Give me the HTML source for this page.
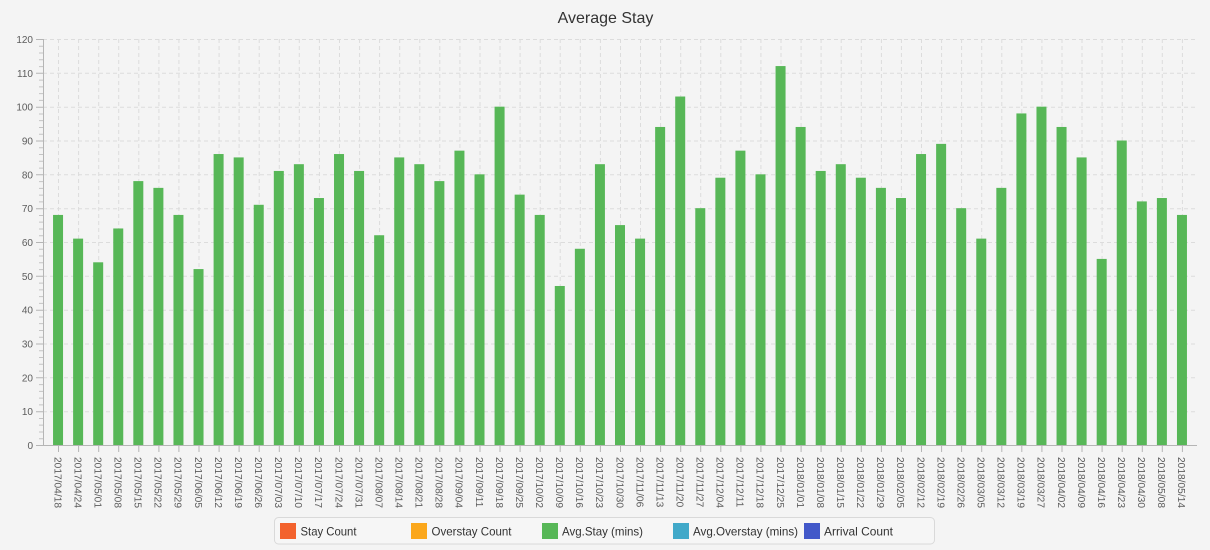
<!DOCTYPE html>
<html><head><meta charset="utf-8"><style>
html,body{margin:0;padding:0;background:#f4f4f4;}
svg{display:block;font-family:"Liberation Sans",sans-serif;}
</style></head><body>
<svg width="1210" height="550" viewBox="0 0 1210 550" xmlns="http://www.w3.org/2000/svg">
<rect width="1210" height="550" fill="#f4f4f4"/>
<text x="605.5" y="23" text-anchor="middle" font-size="16" fill="#333">Average Stay</text>

<!-- horizontal grid -->
<g stroke="#dcdcdc" stroke-width="1" stroke-dasharray="4,3" fill="none">
<path d="M43 39.5H1197M43 73.3H1197M43 107.2H1197M43 141H1197M43 174.8H1197M43 208.7H1197M43 242.5H1197M43 276.3H1197M43 310.2H1197M43 344H1197M43 377.8H1197M43 411.7H1197"/>
</g>
<!-- vertical grid -->
<g stroke="#dcdcdc" stroke-width="1" stroke-dasharray="4,3" fill="none">
<path d="M58.5 39V445M78.6 39V445M98.7 39V445M118.7 39V445M138.8 39V445M158.9 39V445M178.9 39V445M199 39V445M219.1 39V445M239.1 39V445M259.2 39V445M279.3 39V445M299.3 39V445M319.4 39V445M339.5 39V445M359.6 39V445M379.6 39V445M399.7 39V445M419.8 39V445M439.8 39V445M459.9 39V445M480 39V445M500 39V445M520.1 39V445M540.2 39V445M560.2 39V445M580.3 39V445M600.4 39V445M620.5 39V445M640.5 39V445M660.6 39V445M680.7 39V445M700.7 39V445M720.8 39V445M740.9 39V445M760.9 39V445M781 39V445M801.1 39V445M821.1 39V445M841.2 39V445M861.3 39V445M881.4 39V445M901.4 39V445M921.5 39V445M941.6 39V445M961.6 39V445M981.7 39V445M1001.8 39V445M1021.8 39V445M1041.9 39V445M1062 39V445M1082 39V445M1102.1 39V445M1122.2 39V445M1142.3 39V445M1162.3 39V445M1182.4 39V445"/>
</g>

<!-- bars -->
<g transform="translate(53.04,445) scale(20.07,-3.38333)" fill="#57b757">
<rect x="0" y="0" width="0.4983" height="68"/>
<rect x="1" y="0" width="0.4983" height="61"/>
<rect x="2" y="0" width="0.4983" height="54"/>
<rect x="3" y="0" width="0.4983" height="64"/>
<rect x="4" y="0" width="0.4983" height="78"/>
<rect x="5" y="0" width="0.4983" height="76"/>
<rect x="6" y="0" width="0.4983" height="68"/>
<rect x="7" y="0" width="0.4983" height="52"/>
<rect x="8" y="0" width="0.4983" height="86"/>
<rect x="9" y="0" width="0.4983" height="85"/>
<rect x="10" y="0" width="0.4983" height="71"/>
<rect x="11" y="0" width="0.4983" height="81"/>
<rect x="12" y="0" width="0.4983" height="83"/>
<rect x="13" y="0" width="0.4983" height="73"/>
<rect x="14" y="0" width="0.4983" height="86"/>
<rect x="15" y="0" width="0.4983" height="81"/>
<rect x="16" y="0" width="0.4983" height="62"/>
<rect x="17" y="0" width="0.4983" height="85"/>
<rect x="18" y="0" width="0.4983" height="83"/>
<rect x="19" y="0" width="0.4983" height="78"/>
<rect x="20" y="0" width="0.4983" height="87"/>
<rect x="21" y="0" width="0.4983" height="80"/>
<rect x="22" y="0" width="0.4983" height="100"/>
<rect x="23" y="0" width="0.4983" height="74"/>
<rect x="24" y="0" width="0.4983" height="68"/>
<rect x="25" y="0" width="0.4983" height="47"/>
<rect x="26" y="0" width="0.4983" height="58"/>
<rect x="27" y="0" width="0.4983" height="83"/>
<rect x="28" y="0" width="0.4983" height="65"/>
<rect x="29" y="0" width="0.4983" height="61"/>
<rect x="30" y="0" width="0.4983" height="94"/>
<rect x="31" y="0" width="0.4983" height="103"/>
<rect x="32" y="0" width="0.4983" height="70"/>
<rect x="33" y="0" width="0.4983" height="79"/>
<rect x="34" y="0" width="0.4983" height="87"/>
<rect x="35" y="0" width="0.4983" height="80"/>
<rect x="36" y="0" width="0.4983" height="112"/>
<rect x="37" y="0" width="0.4983" height="94"/>
<rect x="38" y="0" width="0.4983" height="81"/>
<rect x="39" y="0" width="0.4983" height="83"/>
<rect x="40" y="0" width="0.4983" height="79"/>
<rect x="41" y="0" width="0.4983" height="76"/>
<rect x="42" y="0" width="0.4983" height="73"/>
<rect x="43" y="0" width="0.4983" height="86"/>
<rect x="44" y="0" width="0.4983" height="89"/>
<rect x="45" y="0" width="0.4983" height="70"/>
<rect x="46" y="0" width="0.4983" height="61"/>
<rect x="47" y="0" width="0.4983" height="76"/>
<rect x="48" y="0" width="0.4983" height="98"/>
<rect x="49" y="0" width="0.4983" height="100"/>
<rect x="50" y="0" width="0.4983" height="94"/>
<rect x="51" y="0" width="0.4983" height="85"/>
<rect x="52" y="0" width="0.4983" height="55"/>
<rect x="53" y="0" width="0.4983" height="90"/>
<rect x="54" y="0" width="0.4983" height="72"/>
<rect x="55" y="0" width="0.4983" height="73"/>
<rect x="56" y="0" width="0.4983" height="68"/>
</g>

<!-- axes -->
<g stroke="#b5b5b5" stroke-width="1" fill="none">
<path d="M43.5 39V445.5M43 445.5H1197"/>
<path d="M36 39.5H43.5M36 73.3H43.5M36 107.2H43.5M36 141H43.5M36 174.8H43.5M36 208.7H43.5M36 242.5H43.5M36 276.3H43.5M36 310.2H43.5M36 344H43.5M36 377.8H43.5M36 411.7H43.5M36 445.5H43.5"/>
</g>
<!-- minor y ticks -->
<g stroke="#c4c4c4" stroke-width="1" fill="none">
<path id="mt" d="M39 46.3H43M39 53H43M39 59.8H43M39 66.6H43"/>
<use href="#mt" y="33.83"/><use href="#mt" y="67.67"/><use href="#mt" y="101.5"/><use href="#mt" y="135.33"/><use href="#mt" y="169.17"/><use href="#mt" y="203"/><use href="#mt" y="236.83"/><use href="#mt" y="270.67"/><use href="#mt" y="304.5"/><use href="#mt" y="338.33"/><use href="#mt" y="372.17"/>
</g>
<!-- x ticks -->
<g stroke="#b5b5b5" stroke-width="1" fill="none">
<path d="M58.5 445V452M78.6 445V452M98.7 445V452M118.7 445V452M138.8 445V452M158.9 445V452M178.9 445V452M199 445V452M219.1 445V452M239.1 445V452M259.2 445V452M279.3 445V452M299.3 445V452M319.4 445V452M339.5 445V452M359.6 445V452M379.6 445V452M399.7 445V452M419.8 445V452M439.8 445V452M459.9 445V452M480 445V452M500 445V452M520.1 445V452M540.2 445V452M560.2 445V452M580.3 445V452M600.4 445V452M620.5 445V452M640.5 445V452M660.6 445V452M680.7 445V452M700.7 445V452M720.8 445V452M740.9 445V452M760.9 445V452M781 445V452M801.1 445V452M821.1 445V452M841.2 445V452M861.3 445V452M881.4 445V452M901.4 445V452M921.5 445V452M941.6 445V452M961.6 445V452M981.7 445V452M1001.8 445V452M1021.8 445V452M1041.9 445V452M1062 445V452M1082 445V452M1102.1 445V452M1122.2 445V452M1142.3 445V452M1162.3 445V452M1182.4 445V452"/>
</g>

<!-- y labels -->
<g font-size="10" fill="#5c5c5c" text-anchor="end">
<text x="33" y="43">120</text>
<text x="33" y="76.8">110</text>
<text x="33" y="110.7">100</text>
<text x="33" y="144.5">90</text>
<text x="33" y="178.3">80</text>
<text x="33" y="212.2">70</text>
<text x="33" y="246">60</text>
<text x="33" y="279.8">50</text>
<text x="33" y="313.7">40</text>
<text x="33" y="347.5">30</text>
<text x="33" y="381.3">20</text>
<text x="33" y="415.2">10</text>
<text x="33" y="449">0</text>
</g>

<!-- x labels -->
<g font-size="10.2" fill="#5c5c5c">
<text transform="translate(54.3,457) rotate(90)">2017/04/18</text>
<text transform="translate(74.4,457) rotate(90)">2017/04/24</text>
<text transform="translate(94.5,457) rotate(90)">2017/05/01</text>
<text transform="translate(114.5,457) rotate(90)">2017/05/08</text>
<text transform="translate(134.6,457) rotate(90)">2017/05/15</text>
<text transform="translate(154.7,457) rotate(90)">2017/05/22</text>
<text transform="translate(174.7,457) rotate(90)">2017/05/29</text>
<text transform="translate(194.8,457) rotate(90)">2017/06/05</text>
<text transform="translate(214.9,457) rotate(90)">2017/06/12</text>
<text transform="translate(234.9,457) rotate(90)">2017/06/19</text>
<text transform="translate(255,457) rotate(90)">2017/06/26</text>
<text transform="translate(275.1,457) rotate(90)">2017/07/03</text>
<text transform="translate(295.1,457) rotate(90)">2017/07/10</text>
<text transform="translate(315.2,457) rotate(90)">2017/07/17</text>
<text transform="translate(335.3,457) rotate(90)">2017/07/24</text>
<text transform="translate(355.4,457) rotate(90)">2017/07/31</text>
<text transform="translate(375.4,457) rotate(90)">2017/08/07</text>
<text transform="translate(395.5,457) rotate(90)">2017/08/14</text>
<text transform="translate(415.6,457) rotate(90)">2017/08/21</text>
<text transform="translate(435.6,457) rotate(90)">2017/08/28</text>
<text transform="translate(455.7,457) rotate(90)">2017/09/04</text>
<text transform="translate(475.8,457) rotate(90)">2017/09/11</text>
<text transform="translate(495.8,457) rotate(90)">2017/09/18</text>
<text transform="translate(515.9,457) rotate(90)">2017/09/25</text>
<text transform="translate(536,457) rotate(90)">2017/10/02</text>
<text transform="translate(556,457) rotate(90)">2017/10/09</text>
<text transform="translate(576.1,457) rotate(90)">2017/10/16</text>
<text transform="translate(596.2,457) rotate(90)">2017/10/23</text>
<text transform="translate(616.3,457) rotate(90)">2017/10/30</text>
<text transform="translate(636.3,457) rotate(90)">2017/11/06</text>
<text transform="translate(656.4,457) rotate(90)">2017/11/13</text>
<text transform="translate(676.5,457) rotate(90)">2017/11/20</text>
<text transform="translate(696.5,457) rotate(90)">2017/11/27</text>
<text transform="translate(716.6,457) rotate(90)">2017/12/04</text>
<text transform="translate(736.7,457) rotate(90)">2017/12/11</text>
<text transform="translate(756.7,457) rotate(90)">2017/12/18</text>
<text transform="translate(776.8,457) rotate(90)">2017/12/25</text>
<text transform="translate(796.9,457) rotate(90)">2018/01/01</text>
<text transform="translate(816.9,457) rotate(90)">2018/01/08</text>
<text transform="translate(837,457) rotate(90)">2018/01/15</text>
<text transform="translate(857.1,457) rotate(90)">2018/01/22</text>
<text transform="translate(877.2,457) rotate(90)">2018/01/29</text>
<text transform="translate(897.2,457) rotate(90)">2018/02/05</text>
<text transform="translate(917.3,457) rotate(90)">2018/02/12</text>
<text transform="translate(937.4,457) rotate(90)">2018/02/19</text>
<text transform="translate(957.4,457) rotate(90)">2018/02/26</text>
<text transform="translate(977.5,457) rotate(90)">2018/03/05</text>
<text transform="translate(997.6,457) rotate(90)">2018/03/12</text>
<text transform="translate(1017.6,457) rotate(90)">2018/03/19</text>
<text transform="translate(1037.7,457) rotate(90)">2018/03/27</text>
<text transform="translate(1057.8,457) rotate(90)">2018/04/02</text>
<text transform="translate(1077.8,457) rotate(90)">2018/04/09</text>
<text transform="translate(1097.9,457) rotate(90)">2018/04/16</text>
<text transform="translate(1118,457) rotate(90)">2018/04/23</text>
<text transform="translate(1138.1,457) rotate(90)">2018/04/30</text>
<text transform="translate(1158.1,457) rotate(90)">2018/05/08</text>
<text transform="translate(1178.2,457) rotate(90)">2018/05/14</text>
</g>

<!-- legend -->
<rect x="274.5" y="517.5" width="660" height="26.5" rx="4" ry="4" fill="#f6f6f6" stroke="#d9d9d9"/>
<rect x="280" y="523" width="16" height="16" fill="#f3622d"/>
<rect x="411" y="523" width="16" height="16" fill="#fba71b"/>
<rect x="542" y="523" width="16" height="16" fill="#57b757"/>
<rect x="673" y="523" width="16" height="16" fill="#41a9c9"/>
<rect x="804" y="523" width="16" height="16" fill="#4258c9"/>
<g font-size="12" fill="#333">
<text x="300.5" y="535.5" textLength="56" lengthAdjust="spacingAndGlyphs">Stay Count</text>
<text x="431.5" y="535.5" textLength="80" lengthAdjust="spacingAndGlyphs">Overstay Count</text>
<text x="562" y="535.5" textLength="81" lengthAdjust="spacingAndGlyphs">Avg.Stay (mins)</text>
<text x="693" y="535.5" textLength="105" lengthAdjust="spacingAndGlyphs">Avg.Overstay (mins)</text>
<text x="824" y="535.5" textLength="69" lengthAdjust="spacingAndGlyphs">Arrival Count</text>
</g>
</svg>
</body></html>
